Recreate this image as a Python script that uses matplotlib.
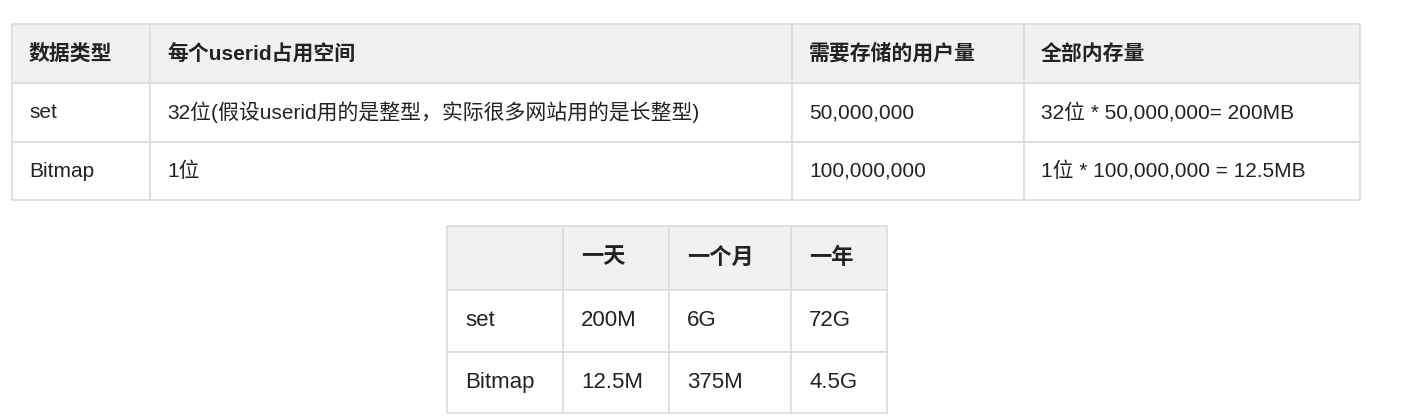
import matplotlib
matplotlib.use("Agg")
import matplotlib.pyplot as plt
from matplotlib.patches import Rectangle

plt.rcParams['font.family'] = ['Liberation Sans', 'Noto Sans CJK SC', 'DejaVu Sans']

W, H = 1417, 417

# Table 1
t1_header = ["数据类型", "每个userid占用空间", "需要存储的用户量", "全部内存量"]
t1_rows = [
    ["set", "32位(假设userid用的是整型，实际很多网站用的是长整型)", "50,000,000", "32位 * 50,000,000= 200MB"],
    ["Bitmap", "1位", "100,000,000", "1位 * 100,000,000 = 12.5MB"],
]
t1_cols = [12, 150, 792, 1024, 1360]
t1_rowy = [24, 83, 142, 200]

# Table 2
t2_header = ["", "一天", "一个月", "一年"]
t2_rows = [
    ["set", "200M", "6G", "72G"],
    ["Bitmap", "12.5M", "375M", "4.5G"],
]
t2_cols = [447, 563, 669, 791, 887]
t2_rowy = [226, 290, 352, 413]

BORDER = "#dcdcdc"
HEAD_BG = "#f1f1f1"
TEXT = "#222222"


def draw_table(ax, header, rows, cols, rowy, size, pad):
    data = [header] + rows
    for r, row in enumerate(data):
        y0, y1 = rowy[r], rowy[r + 1]
        for c, txt in enumerate(row):
            x0, x1 = cols[c], cols[c + 1]
            ax.add_patch(Rectangle((x0, y0), x1 - x0, y1 - y0,
                                   facecolor=HEAD_BG if r == 0 else "white",
                                   edgecolor=BORDER, linewidth=1.2))
            if txt:
                ax.text(x0 + pad, (y0 + y1) / 2, txt, fontsize=size,
                        color=TEXT, va="center", ha="left",
                        fontweight="bold" if r == 0 else "normal")


fig = plt.figure(figsize=(W / 100, H / 100), dpi=100)
ax = fig.add_axes([0, 0, 1, 1])
ax.set_xlim(0, W)
ax.set_ylim(H, 0)
ax.axis("off")

draw_table(ax, t1_header, t1_rows, t1_cols, t1_rowy, 15, 17)
draw_table(ax, t2_header, t2_rows, t2_cols, t2_rowy, 16, 18)

fig.savefig("out.png", dpi=100, facecolor="white")
